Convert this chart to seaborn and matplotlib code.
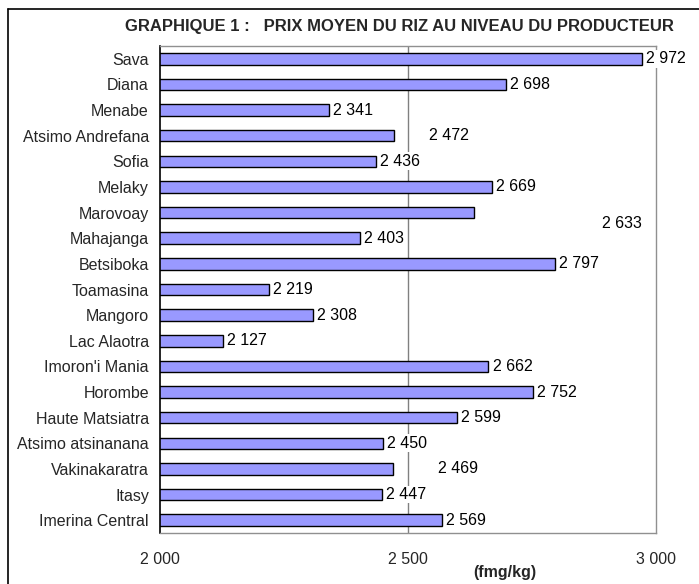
import matplotlib
matplotlib.use('Agg')
import matplotlib.pyplot as plt
import seaborn as sns
from matplotlib.lines import Line2D
from matplotlib.ticker import FixedLocator

# données : prix moyen du riz au niveau du producteur (fmg/kg)
regions = ['Sava', 'Diana', 'Menabe', 'Atsimo Andrefana', 'Sofia', 'Melaky',
           'Marovoay', 'Mahajanga', 'Betsiboka', 'Toamasina', 'Mangoro',
           'Lac Alaotra', "Imoron'i Mania", 'Horombe', 'Haute Matsiatra',
           'Atsimo atsinanana', 'Vakinakaratra', 'Itasy', 'Imerina Central']
prix = [2972, 2698, 2341, 2472, 2436, 2669, 2633, 2403, 2797, 2219, 2308,
        2127, 2662, 2752, 2599, 2450, 2469, 2447, 2569]
xticks = [2000, 2500, 3000]
xtick_labels = ['2 000', '2 500', '3 000']
# décalage des étiquettes (en points) comme dans le graphique d'origine
decalage = {'Atsimo Andrefana': (25, 0), 'Marovoay': (92, -8), 'Vakinakaratra': (33, 0)}

sns.set_style('white')
plt.rcParams['font.family'] = ['Liberation Sans', 'DejaVu Sans']

fig = plt.figure(figsize=(6.99, 5.84), dpi=100)
ax = fig.add_axes([160 / 699, 51 / 584, 496 / 699, 487 / 584])

sns.barplot(x=prix, y=regions, orient='h', color='#9999FF', saturation=1,
            edgecolor='black', linewidth=1, width=0.45, ax=ax)

ax.set_xlim(2000, 3000)
ax.set_ylim(len(regions) - 0.5, -0.5)
ax.axvline(2500, color='#808080', linewidth=1, zorder=0)

# étiquettes de valeur
for i, (r, v) in enumerate(zip(regions, prix)):
    dx, dy = decalage.get(r, (3, 0))
    lab = f'{v // 1000} {v % 1000:03d}'
    ax.annotate(lab, xy=(v, i), xytext=(dx, dy), textcoords='offset points',
                ha='left', va='center', fontsize=11.5, color='black',
                bbox=dict(facecolor='white', edgecolor='none', pad=1), zorder=5)

ax.set_xticks(xticks)
ax.set_xticklabels(xtick_labels, fontsize=11.5)
ax.tick_params(axis='x', length=0, pad=14)
ax.set_ylabel('')
ax.tick_params(axis='y', which='major', length=0, labelsize=11.5, pad=8)
ax.yaxis.set_minor_locator(FixedLocator([i - 0.5 for i in range(len(regions) + 1)]))
ax.tick_params(axis='y', which='minor', length=5, width=1, color='black', direction='out')

for s in ['top', 'right', 'bottom']:
    ax.spines[s].set_color('#909090')
    ax.spines[s].set_linewidth(1)
ax.spines['left'].set_color('black')
ax.spines['left'].set_linewidth(1.2)

fig.text(0.572, 1 - 27 / 584, 'GRAPHIQUE 1 :   PRIX MOYEN DU RIZ AU NIVEAU DU PRODUCTEUR',
         ha='center', va='center', fontsize=12, fontweight='bold')
fig.text(505 / 699, 1 - 573 / 584, '(fmg/kg)', ha='center', va='center',
         fontsize=11.5, fontweight='bold')

# cadre extérieur
fig.add_artist(Line2D([8 / 699, 8 / 699], [0, 1 - 9 / 584], color='black', linewidth=1.2))
fig.add_artist(Line2D([8 / 699, 1], [1 - 9 / 584, 1 - 9 / 584], color='black', linewidth=1.2))

fig.savefig('out.png', dpi=100)
